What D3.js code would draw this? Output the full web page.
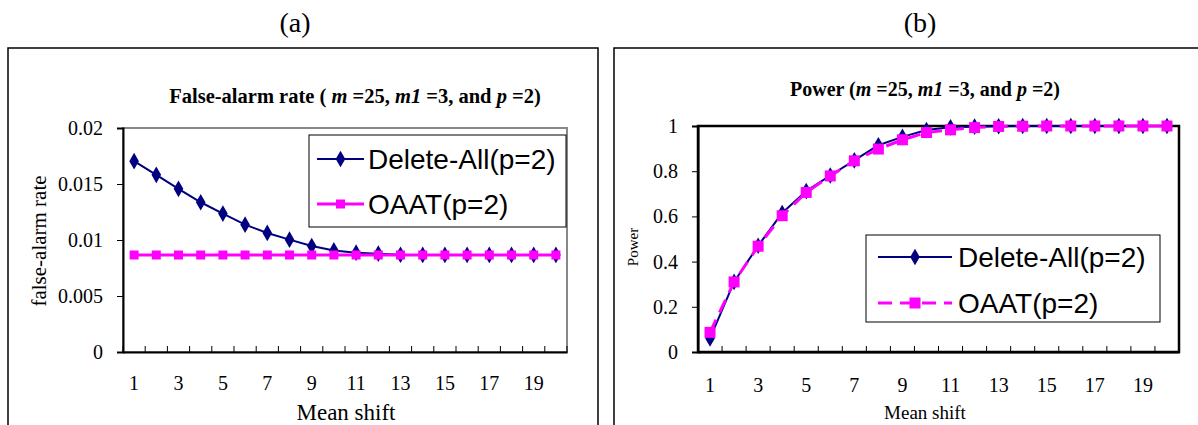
<!DOCTYPE html>
<html><head><meta charset="utf-8">
<script src="https://cdn.jsdelivr.net/npm/d3@7"></script>
<style>body{margin:0;background:#fff}svg{display:block}</style>
</head><body>
<svg id="c" width="1198" height="425"></svg>
<script>
const categories = [1,2,3,4,5,6,7,8,9,10,11,12,13,14,15,16,17,18,19,20];
const xTickLabels = [1,3,5,7,9,11,13,15,17,19];
const faDeleteAll = [0.01704,0.01582,0.01457,0.01337,0.01236,0.01137,0.01063,0.01003,0.00946,0.00907,0.00887,0.00878,0.00868,0.00867,0.00867,0.00867,0.00867,0.00867,0.00867,0.00867];
const faOAAT = [0.00866,0.00866,0.00866,0.00866,0.00866,0.00866,0.00866,0.00866,0.00866,0.00866,0.00866,0.00866,0.00866,0.00866,0.00866,0.00866,0.00866,0.00866,0.00866,0.00866];
const faTicks = [0,0.005,0.01,0.015,0.02];
const pwDeleteAll = [0.06,0.31,0.47,0.615,0.712,0.781,0.848,0.915,0.952,0.982,0.994,0.997,0.999,1,1,1,1,1,1,1];
const pwOAAT = [0.087,0.31,0.468,0.603,0.706,0.779,0.846,0.898,0.939,0.971,0.983,0.993,0.998,0.999,1,1,1,1,1,1];
const pwTicks = [0,0.2,0.4,0.6,0.8,1];
const seriesNames = ["Delete-All(p=2)","OAAT(p=2)"];

const svg = d3.select("#c");
const SERIF = "'Liberation Serif','Times New Roman',serif";
const SANS = "'Liberation Sans',Arial,sans-serif";
const NAVY = "#000080", PINK = "#ff00ff";

function diamond(g, x, y, r){ g.append("path").attr("d", d3.symbol().type(d3.symbolDiamond).size(r)()).attr("transform",`translate(${x},${y})`).attr("fill",NAVY); }
function square(g, x, y, s){ g.append("rect").attr("x",x-s/2).attr("y",y-s/2).attr("width",s).attr("height",s).attr("fill",PINK); }

function panel(o){
  const g = svg.append("g");
  g.append("rect").attr("x",o.frame[0]).attr("y",o.frame[1]).attr("width",o.frame[2]).attr("height",o.frame[3])
    .attr("fill","none").attr("stroke","#000").attr("stroke-width",1.5);
  g.append("text").attr("x",o.labelX).attr("y",32).attr("text-anchor","middle")
    .attr("font-family",SERIF).attr("font-size",28).text(o.label);
  const x = d3.scaleBand().domain(categories).range([o.L,o.R]);
  const y = d3.scaleLinear().domain([0,o.ymax]).range([o.B,o.T]);
  g.append("rect").attr("x",o.L).attr("y",o.T).attr("width",o.R-o.L).attr("height",o.B-o.T)
    .attr("fill","none").attr("stroke",o.borderColor).attr("stroke-width",o.borderW);
  const t = g.append("text").attr("x",o.titleX).attr("y",o.titleY).attr("text-anchor","middle")
    .attr("font-family",SERIF).attr("font-weight","bold").attr("font-size",o.titleSize);
  o.title.forEach(p=>t.append("tspan").attr("font-style",p[1]?"italic":"normal").text(p[0]));
  const ya = g.append("g").attr("transform",`translate(${o.L},0)`)
    .call(d3.axisLeft(y).tickValues(o.yTicks).tickSize(6).tickPadding(o.yPad).tickFormat(d=>String(d)));
  ya.select(".domain").attr("stroke","#000").attr("stroke-width",2);
  ya.selectAll(".tick line").attr("stroke","#000");
  ya.selectAll(".tick text").attr("font-family",SERIF).attr("font-size",20).attr("fill","#000");
  const xa = g.append("g").attr("transform",`translate(0,${o.B})`)
    .call(d3.axisBottom(x).tickValues(xTickLabels).tickSize(0).tickPadding(o.xPad).tickFormat(d=>String(d)));
  xa.select(".domain").attr("stroke","#000").attr("stroke-width",2);
  xa.selectAll(".tick text").attr("font-family",SERIF).attr("font-size",20).attr("fill","#000");
  categories.forEach(c=>{
    g.append("line").attr("x1",x(c)).attr("x2",x(c)).attr("y1",o.B).attr("y2",o.B-6).attr("stroke","#000");
  });
  g.append("line").attr("x1",o.R).attr("x2",o.R).attr("y1",o.B).attr("y2",o.B-6).attr("stroke","#000");
  g.append("text").attr("x",o.xTitleX).attr("y",o.xTitleY).attr("text-anchor","middle")
    .attr("font-family",SERIF).attr("font-size",o.xTitleSize).text("Mean shift");
  g.append("text").attr("transform",`translate(${o.yTitleX},${o.yTitleY}) rotate(-90)`).attr("text-anchor","middle")
    .attr("font-family",SERIF).attr("font-size",o.yTitleSize).text(o.yTitle);
  const cx = c=>x(c)+x.bandwidth()/2;
  const line = d3.line().x((d,i)=>cx(categories[i])).y(d=>y(d));
  g.append("path").datum(o.s1).attr("d",line).attr("fill","none").attr("stroke",NAVY).attr("stroke-width",2);
  o.s1.forEach((v,i)=>diamond(g,cx(categories[i]),y(v),o.dSize));
  g.append("path").datum(o.s2).attr("d",line).attr("fill","none").attr("stroke",PINK).attr("stroke-width",3)
    .attr("stroke-dasharray",o.dash||null);
  o.s2.forEach((v,i)=>square(g,cx(categories[i]),y(v),o.sSize));
  const lg = o.legend;
  g.append("rect").attr("x",lg.x).attr("y",lg.y).attr("width",lg.w).attr("height",lg.h)
    .attr("fill","#fff").attr("stroke","#000").attr("stroke-width",1);
  lg.rows.forEach((ry,i)=>{
    const ly = lg.y+ry;
    g.append("line").attr("x1",lg.x+lg.l0).attr("x2",lg.x+lg.l1).attr("y1",ly).attr("y2",ly)
      .attr("stroke",i?PINK:NAVY).attr("stroke-width",i?3:2).attr("stroke-dasharray",i&&o.dash?o.dash:null);
    const mx = lg.x+(lg.l0+lg.l1)/2;
    if(i) square(g,mx,ly,o.sSize); else diamond(g,mx,ly,o.dSize);
    g.append("text").attr("x",lg.x+lg.tx).attr("y",ly+10).attr("font-family",SANS).attr("font-size",lg.fs)
      .text(seriesNames[i]);
  });
}

panel({frame:[8,48,590,400], label:"(a)", labelX:295, L:123, R:567, T:128, B:352, ymax:0.02,
  borderColor:"#888", borderW:2, titleX:355, titleY:103, titleSize:20.5, yPad:14, xPad:24,
  title:[["False-alarm rate ( ",0],["m",1],[" =25, ",0],["m1",1],[" =3, and ",0],["p",1],[" =2)",0]],
  yTicks:faTicks, xTitleX:346, xTitleY:420, xTitleSize:23, yTitle:"false-alarm rate", yTitleX:46, yTitleY:241, yTitleSize:21,
  s1:faDeleteAll, s2:faOAAT, dSize:80, sSize:9,
  legend:{x:309, y:135, w:257, h:92, rows:[24,69], l0:8, l1:55, tx:59, fs:28}});

panel({frame:[614,48,600,400], label:"(b)", labelX:920, L:698, R:1179, T:126, B:352, ymax:1,
  borderColor:"#000", borderW:2.5, titleX:925, titleY:96, titleSize:20, yPad:14, xPad:26,
  title:[["Power (",0],["m",1],[" =25, ",0],["m1",1],[" =3, and ",0],["p",1],[" =2)",0]],
  yTicks:pwTicks, xTitleX:925, xTitleY:419, xTitleSize:19, yTitle:"Power", yTitleX:638, yTitleY:247, yTitleSize:15,
  s1:pwDeleteAll, s2:pwOAAT, dSize:80, sSize:11, dash:"14,8",
  legend:{x:866, y:235, w:294, h:87, rows:[22,68], l0:12, l1:86, tx:92, fs:28}});
</script>
</body></html>
